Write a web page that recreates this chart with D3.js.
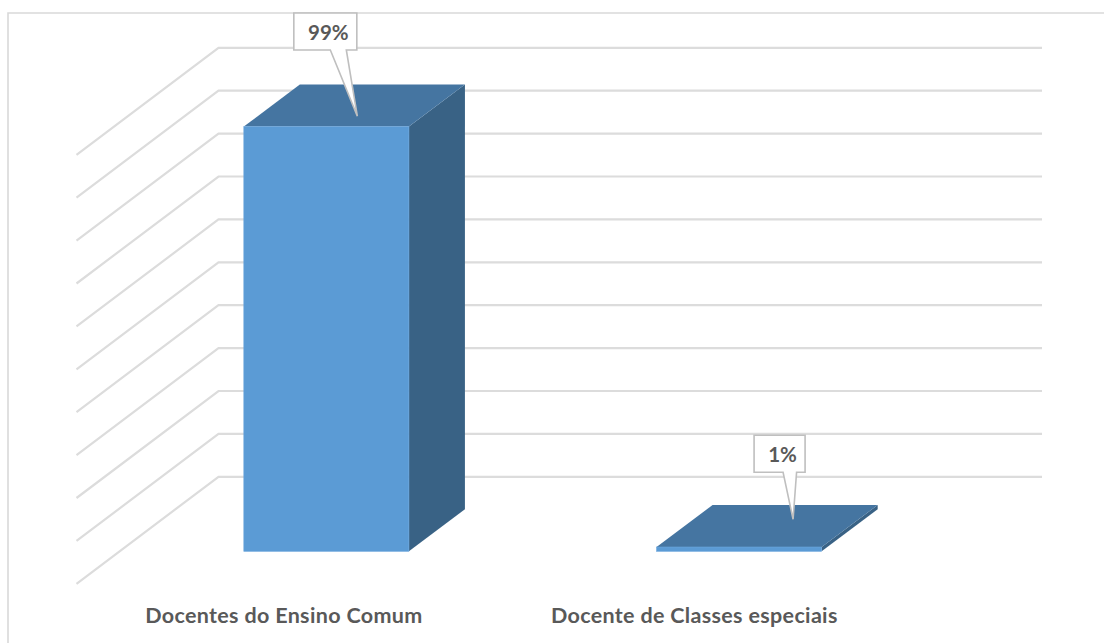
<!DOCTYPE html>
<html>
    <head>
        <meta charset="utf-8">
        <script src="https://cdn.jsdelivr.net/npm/d3@7"></script>
        <style>
            html, body { margin: 0; padding: 0; background: #fff; }
            svg { display: block; }
            text { font-family: Lato, "Open Sans", sans-serif; font-weight: 700; fill: #595959; }
        </style>
    </head>
    <body>
        <svg id="fig" width="1104" height="643"></svg>
        <script>
            var categories = ["Docentes do Ensino Comum", "Docente de Classes especiais"];
            var values = [99, 1];
            var valueLabels = ["99%", "1%"];
            var gridTicks = [0, 10, 20, 30, 40, 50, 60, 70, 80, 90, 100];

            var svg = d3.select("#fig");

            // floor of the 3d box: front edge is 107px below the back wall
            var wallLeft = 218.5, wallRight = 1042, wallBase = 476.8;
            var floorDx = -142, floorDy = 107;

            var y = d3.scaleLinear().domain([0, 100]).range([0, 429]);
            var x = d3.scaleBand().domain(categories)
                                  .range([wallLeft + floorDx, wallRight + floorDx + 2])
                                  .paddingInner(0.6)
                                  .paddingOuter(0.3);

            // bar sits part way into the floor, and has its own depth
            var barDx = 43.5, barDy = -32.5;
            var depthDx = 56, depthDy = -42;
            var frontBase = wallBase + floorDy + barDy;

            // chart frame, runs off the right and bottom of the picture
            svg.append("path")
               .attr("d", "M8,643V13H1104")
               .attr("fill", "none")
               .attr("stroke", "#d9d9d9")
               .attr("stroke-width", 1.6);

            // gridlines: diagonal on the side wall, then flat on the back wall
            svg.append("g").selectAll("path").data(gridTicks)
               .enter()
               .append("path")
               .attr("d", t => d3.line()([
                   [wallLeft + floorDx, wallBase - y(t) + floorDy],
                   [wallLeft, wallBase - y(t)],
                   [wallRight, wallBase - y(t)]
               ]))
               .attr("fill", "none")
               .attr("stroke", "#dcdcdc")
               .attr("stroke-width", 2.2);

            var bars = svg.append("g").selectAll("g").data(categories)
               .enter()
               .append("g");

            function barX(c) { return x(c) + barDx; }
            function barTop(i) { return frontBase - y(values[i]); }

            // right side
            bars.append("path")
                .attr("fill", "#396285")
                .attr("d", (c, i) => {
                    var r = barX(c) + x.bandwidth();
                    return d3.line()([[r, barTop(i)], [r + depthDx, barTop(i) + depthDy],
                                      [r + depthDx, frontBase + depthDy], [r, frontBase]]) + "Z";
                });

            // top
            bars.append("path")
                .attr("fill", "#4575a1")
                .attr("d", (c, i) => {
                    var l = barX(c), r = l + x.bandwidth();
                    return d3.line()([[l, barTop(i)], [l + depthDx, barTop(i) + depthDy],
                                      [r + depthDx, barTop(i) + depthDy], [r, barTop(i)]]) + "Z";
                });

            // front
            bars.append("rect")
                .attr("fill", "#5b9bd5")
                .attr("stroke", "#6ba6dc")
                .attr("stroke-width", 0.6)
                .attr("x", c => barX(c))
                .attr("y", (c, i) => barTop(i))
                .attr("width", x.bandwidth())
                .attr("height", (c, i) => y(values[i]));

            // callouts, placed relative to the top of their bar
            var callouts = [
                { w: 63, h: 37, dx: 50, dy: -113.6, p1: 86.5, p2: 102.5, tipX: 113.5, tipY: -10.5, textDx: 3 },
                { w: 51, h: 37, dx: 97.5, dy: -111.7, p1: 126.5, p2: 140, tipX: 136.5, tipY: -27.7, textDx: 3 }
            ];

            var labels = svg.append("g").selectAll("g").data(categories)
               .enter()
               .append("g")
               .attr("transform", (c, i) => "translate(" + barX(c) + "," + barTop(i) + ")");

            labels.append("path")
                  .attr("fill", "#fff")
                  .attr("stroke", "#bfbfbf")
                  .attr("stroke-width", 1.6)
                  .attr("d", (c, i) => {
                      var k = callouts[i];
                      return d3.line()([[k.dx, k.dy], [k.dx + k.w, k.dy], [k.dx + k.w, k.dy + k.h],
                                        [k.p2, k.dy + k.h], [k.tipX, k.tipY], [k.p1, k.dy + k.h],
                                        [k.dx, k.dy + k.h]]) + "Z";
                  });

            labels.append("text")
                  .attr("x", (c, i) => callouts[i].dx + callouts[i].w / 2 + callouts[i].textDx)
                  .attr("y", (c, i) => callouts[i].dy + 27)
                  .attr("text-anchor", "middle")
                  .attr("font-size", 20.5)
                  .text((c, i) => valueLabels[i]);

            // category labels, small nudge to line up with the original
            var labelNudge = [1, -1.3];
            svg.append("g").selectAll("text").data(categories)
               .enter()
               .append("text")
               .attr("x", (c, i) => x(c) + x.bandwidth() / 2 + labelNudge[i])
               .attr("y", 622.5)
               .attr("text-anchor", "middle")
               .attr("font-size", 21.5)
               .attr("letter-spacing", 0.33)
               .text(c => c);
        </script>
    </body>
</html>
